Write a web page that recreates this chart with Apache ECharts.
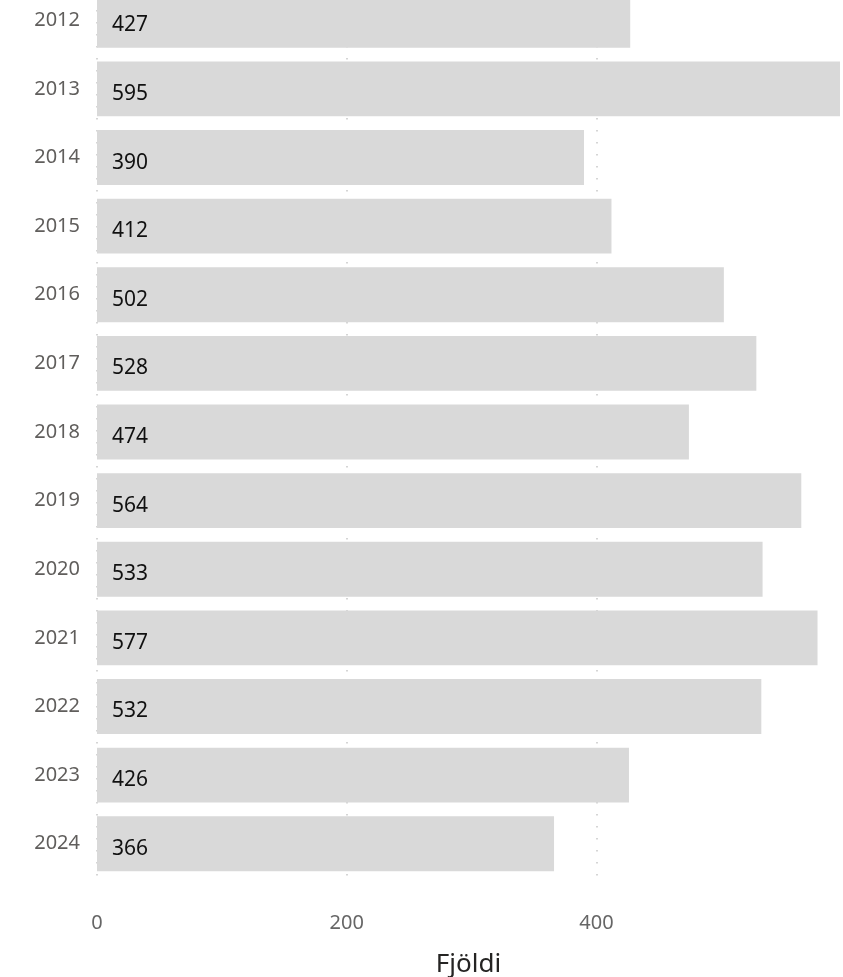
<!DOCTYPE html>
<html><head><meta charset="utf-8">
<script src="https://cdn.jsdelivr.net/npm/echarts@6/dist/echarts.min.js"></script>
<style>html,body{margin:0;padding:0;background:#fff;overflow:hidden}#c{width:843px;height:991px;margin-top:-14px}</style>
</head><body><div id="c"></div>
<script>
var years = ['2012','2013','2014','2015','2016','2017','2018','2019','2020','2021','2022','2023','2024'];
var counts = [427,595,390,412,502,528,474,564,533,577,532,426,366];
var xTicks = [0,200,400];
var axisTitle = 'Fjöldi';

var chart = echarts.init(document.getElementById('c'));
chart.setOption({
  animation: false,
  grid: {left: 97, right: 3, top: 0, height: 892, containLabel: false, outerBoundsMode: 'none'},
  xAxis: {
    type: 'value', min: 0, max: 595, interval: 200,
    name: axisTitle, nameLocation: 'middle', nameGap: 74,
    nameTextStyle: {fontFamily: 'Noto Sans', fontSize: 26, color: '#252423'},
    axisLine: {show: false}, axisTick: {show: false},
    axisLabel: {fontFamily: 'Noto Sans', fontSize: 20, color: '#666666', margin: 35,
      formatter: function(v){ return xTicks.indexOf(v) >= 0 ? String(v) : ''; }},
    splitLine: {show: true, showMaxLine: false, lineStyle: {color: '#c8c8c8', type: [1.5, 10.5], width: 1.5}}
  },
  yAxis: {
    type: 'category', data: years, inverse: true,
    axisLine: {show: false}, axisTick: {show: false},
    axisLabel: {fontFamily: 'Noto Sans', fontSize: 20, color: '#605e5c', margin: 17, padding: [2, 0, 0, 0]}
  },
  series: [{
    type: 'bar', data: counts, barCategoryGap: '20%',
    itemStyle: {color: '#d9d9d9'},
    label: {show: true, position: 'insideLeft', distance: 15, fontFamily: 'Noto Sans', fontSize: 21, color: '#111111', offset: [0, 5]}
  }]
});
</script></body></html>
